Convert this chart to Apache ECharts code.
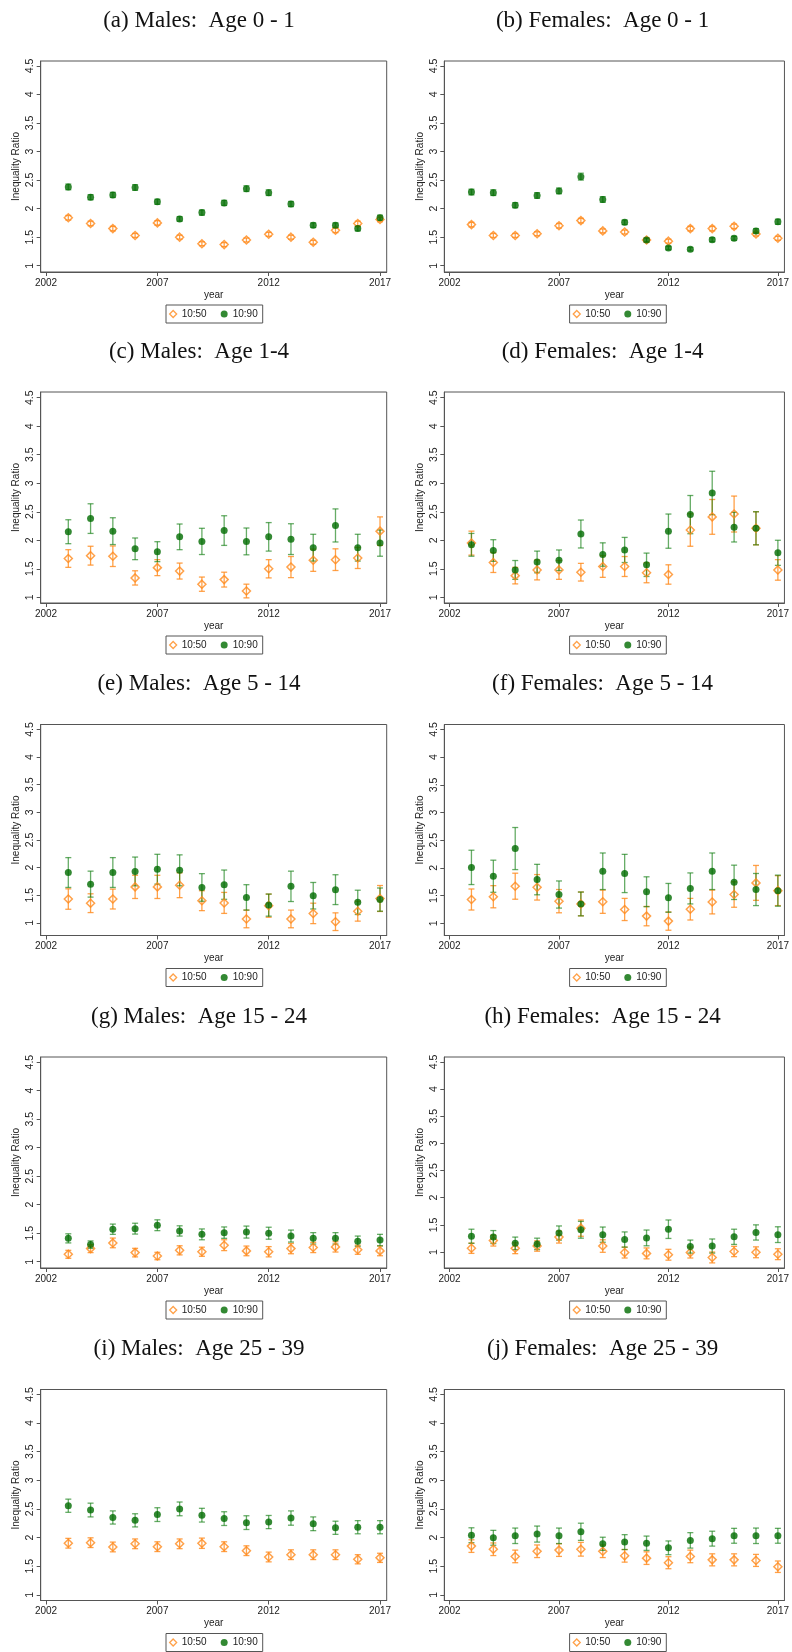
<!DOCTYPE html>
<html>
<head>
<meta charset="utf-8">
<script src="https://cdn.jsdelivr.net/npm/echarts@6/dist/echarts.min.js"></script>
<style>
  html, body { margin: 0; padding: 0; background: #fff; }
  #chart { width: 792px; height: 1652px; }
</style>
</head>
<body>
<div id="chart"></div>
<script>
// x values and tick labels
var years = [2003, 2004, 2005, 2006, 2007, 2008, 2009, 2010, 2011, 2012, 2013, 2014, 2015, 2016, 2017];
var xTicks = [2002, 2007, 2012, 2017];
var yTicks = [1, 1.5, 2, 2.5, 3, 3.5, 4, 4.5];

// (a) males 0-1   (r50 = 10:50 ratio, r90 = 10:90 ratio, *Err = half width of the interval)
var mAge0_r50    = [1.84, 1.74, 1.65, 1.53, 1.75, 1.50, 1.385, 1.37, 1.45, 1.55, 1.50, 1.41, 1.62, 1.74, 1.81];
var mAge0_r50Err = [0.04, 0.04, 0.04, 0.035, 0.04, 0.035, 0.035, 0.035, 0.035, 0.035, 0.035, 0.035, 0.04, 0.04, 0.04];
var mAge0_r90    = [2.38, 2.20, 2.24, 2.37, 2.12, 1.82, 1.93, 2.10, 2.35, 2.28, 2.08, 1.71, 1.71, 1.65, 1.84];
var mAge0_r90Err = [0.05, 0.045, 0.045, 0.05, 0.045, 0.04, 0.045, 0.045, 0.05, 0.05, 0.045, 0.04, 0.04, 0.04, 0.045];

// (b) females 0-1
var fAge0_r50    = [1.72, 1.53, 1.53, 1.56, 1.70, 1.79, 1.61, 1.59, 1.45, 1.43, 1.65, 1.65, 1.69, 1.555, 1.48];
var fAge0_r50Err = [0.04, 0.035, 0.035, 0.035, 0.04, 0.04, 0.035, 0.035, 0.035, 0.035, 0.04, 0.04, 0.04, 0.035, 0.035];
var fAge0_r90    = [2.29, 2.28, 2.06, 2.23, 2.31, 2.56, 2.16, 1.76, 1.45, 1.31, 1.29, 1.455, 1.48, 1.61, 1.77];
var fAge0_r90Err = [0.05, 0.05, 0.045, 0.05, 0.05, 0.06, 0.05, 0.04, 0.035, 0.03, 0.03, 0.035, 0.035, 0.04, 0.045];

// (c) males 1-4
var mAge1_r50    = [1.68, 1.73, 1.72, 1.34, 1.52, 1.46, 1.23, 1.31, 1.11, 1.50, 1.53, 1.65, 1.66, 1.69, 2.16];
var mAge1_r50Err = [0.155, 0.165, 0.18, 0.125, 0.14, 0.14, 0.125, 0.13, 0.12, 0.16, 0.185, 0.195, 0.19, 0.185, 0.25];
var mAge1_r90    = [2.15, 2.38, 2.16, 1.85, 1.80, 2.06, 1.98, 2.17, 1.98, 2.06, 2.02, 1.87, 2.26, 1.87, 1.95];
var mAge1_r90Err = [0.21, 0.26, 0.235, 0.19, 0.175, 0.225, 0.23, 0.26, 0.235, 0.25, 0.27, 0.235, 0.29, 0.235, 0.23];

// (d) females 1-4
var fAge1_r50    = [1.95, 1.61, 1.38, 1.48, 1.48, 1.44, 1.54, 1.54, 1.43, 1.40, 2.18, 2.41, 2.46, 2.21, 1.48];
var fAge1_r50Err = [0.21, 0.175, 0.145, 0.175, 0.165, 0.155, 0.19, 0.175, 0.175, 0.17, 0.285, 0.305, 0.315, 0.29, 0.18];
var fAge1_r90    = [1.92, 1.82, 1.48, 1.62, 1.65, 2.11, 1.75, 1.83, 1.57, 2.16, 2.45, 2.83, 2.23, 2.21, 1.78];
var fAge1_r90Err = [0.2, 0.19, 0.165, 0.19, 0.18, 0.245, 0.205, 0.22, 0.205, 0.30, 0.335, 0.38, 0.26, 0.29, 0.22];

// (e) males 5-14
var mAge5_r50    = [1.43, 1.355, 1.43, 1.65, 1.65, 1.68, 1.40, 1.36, 1.07, 1.31, 1.07, 1.17, 1.02, 1.21, 1.44];
var mAge5_r50Err = [0.185, 0.17, 0.18, 0.21, 0.21, 0.225, 0.18, 0.19, 0.16, 0.21, 0.16, 0.185, 0.16, 0.18, 0.235];
var mAge5_r90    = [1.91, 1.70, 1.91, 1.93, 1.97, 1.95, 1.64, 1.69, 1.46, 1.32, 1.66, 1.49, 1.60, 1.37, 1.42];
var mAge5_r90Err = [0.27, 0.235, 0.27, 0.26, 0.27, 0.28, 0.25, 0.265, 0.23, 0.20, 0.275, 0.24, 0.27, 0.22, 0.21];

// (f) females 5-14
var fAge5_r50    = [1.43, 1.48, 1.67, 1.65, 1.40, 1.35, 1.39, 1.25, 1.13, 1.04, 1.255, 1.385, 1.52, 1.73, 1.59];
var fAge5_r50Err = [0.19, 0.20, 0.235, 0.23, 0.21, 0.215, 0.21, 0.20, 0.175, 0.165, 0.195, 0.215, 0.23, 0.315, 0.27];
var fAge5_r90    = [2.01, 1.85, 2.35, 1.79, 1.52, 1.35, 1.94, 1.90, 1.57, 1.46, 1.63, 1.94, 1.74, 1.61, 1.59];
var fAge5_r90Err = [0.31, 0.29, 0.38, 0.275, 0.245, 0.215, 0.33, 0.345, 0.27, 0.26, 0.28, 0.33, 0.31, 0.29, 0.28];

// (g) males 15-24
var mAge15_r50    = [1.13, 1.23, 1.33, 1.16, 1.10, 1.20, 1.175, 1.29, 1.19, 1.175, 1.23, 1.25, 1.26, 1.21, 1.19];
var mAge15_r50Err = [0.07, 0.07, 0.085, 0.075, 0.065, 0.08, 0.08, 0.095, 0.085, 0.09, 0.09, 0.09, 0.09, 0.08, 0.085];
var mAge15_r90    = [1.41, 1.30, 1.57, 1.58, 1.64, 1.54, 1.48, 1.51, 1.52, 1.50, 1.45, 1.41, 1.41, 1.36, 1.38];
var mAge15_r90Err = [0.08, 0.065, 0.09, 0.095, 0.095, 0.09, 0.095, 0.10, 0.105, 0.105, 0.105, 0.10, 0.10, 0.09, 0.10];

// (h) females 15-24
var fAge15_r50    = [1.07, 1.21, 1.07, 1.11, 1.275, 1.44, 1.11, 0.99, 0.975, 0.95, 0.99, 0.90, 1.01, 0.995, 0.96];
var fAge15_r50Err = [0.095, 0.10, 0.10, 0.095, 0.11, 0.15, 0.115, 0.10, 0.10, 0.10, 0.10, 0.10, 0.095, 0.10, 0.10];
var fAge15_r90    = [1.29, 1.275, 1.16, 1.15, 1.35, 1.41, 1.32, 1.23, 1.26, 1.42, 1.10, 1.11, 1.28, 1.36, 1.32];
var fAge15_r90Err = [0.13, 0.12, 0.115, 0.105, 0.13, 0.155, 0.14, 0.14, 0.145, 0.17, 0.12, 0.13, 0.14, 0.14, 0.145];

// (i) males 25-39
var mAge25_r50    = [1.90, 1.91, 1.835, 1.89, 1.84, 1.89, 1.90, 1.84, 1.77, 1.66, 1.70, 1.70, 1.70, 1.62, 1.645];
var mAge25_r50Err = [0.085, 0.085, 0.085, 0.085, 0.085, 0.085, 0.09, 0.085, 0.085, 0.085, 0.085, 0.085, 0.085, 0.08, 0.08];
var mAge25_r90    = [2.555, 2.48, 2.35, 2.30, 2.40, 2.50, 2.39, 2.33, 2.26, 2.27, 2.34, 2.24, 2.17, 2.18, 2.18];
var mAge25_r90Err = [0.115, 0.12, 0.115, 0.115, 0.12, 0.12, 0.12, 0.12, 0.12, 0.115, 0.125, 0.12, 0.115, 0.115, 0.115];

// (j) females 25-39
var fAge25_r50    = [1.85, 1.795, 1.67, 1.76, 1.78, 1.795, 1.76, 1.68, 1.64, 1.56, 1.67, 1.61, 1.61, 1.60, 1.49];
var fAge25_r50Err = [0.11, 0.11, 0.11, 0.11, 0.11, 0.12, 0.11, 0.11, 0.11, 0.105, 0.11, 0.105, 0.105, 0.105, 0.10];
var fAge25_r90    = [2.04, 1.995, 2.03, 2.06, 2.03, 2.10, 1.89, 1.92, 1.90, 1.82, 1.95, 1.98, 2.03, 2.03, 2.03];
var fAge25_r90Err = [0.13, 0.13, 0.135, 0.14, 0.135, 0.15, 0.115, 0.13, 0.125, 0.12, 0.135, 0.13, 0.13, 0.135, 0.13];

var panels = [
  { title: '(a) Males:  Age 0 - 1',    r50: mAge0_r50,  e50: mAge0_r50Err,  r90: mAge0_r90,  e90: mAge0_r90Err,  yMin: 0.89, yMax: 4.585 },
  { title: '(b) Females:  Age 0 - 1',  r50: fAge0_r50,  e50: fAge0_r50Err,  r90: fAge0_r90,  e90: fAge0_r90Err,  yMin: 0.89, yMax: 4.585 },
  { title: '(c) Males:  Age 1-4',      r50: mAge1_r50,  e50: mAge1_r50Err,  r90: mAge1_r90,  e90: mAge1_r90Err,  yMin: 0.9,  yMax: 4.6 },
  { title: '(d) Females:  Age 1-4',    r50: fAge1_r50,  e50: fAge1_r50Err,  r90: fAge1_r90,  e90: fAge1_r90Err,  yMin: 0.9,  yMax: 4.6 },
  { title: '(e) Males:  Age 5 - 14',   r50: mAge5_r50,  e50: mAge5_r50Err,  r90: mAge5_r90,  e90: mAge5_r90Err,  yMin: 0.77, yMax: 4.59 },
  { title: '(f) Females:  Age 5 - 14', r50: fAge5_r50,  e50: fAge5_r50Err,  r90: fAge5_r90,  e90: fAge5_r90Err,  yMin: 0.78, yMax: 4.59 },
  { title: '(g) Males:  Age 15 - 24',  r50: mAge15_r50, e50: mAge15_r50Err, r90: mAge15_r90, e90: mAge15_r90Err, yMin: 0.89, yMax: 4.59 },
  { title: '(h) Females:  Age 15 - 24',r50: fAge15_r50, e50: fAge15_r50Err, r90: fAge15_r90, e90: fAge15_r90Err, yMin: 0.706, yMax: 4.59 },
  { title: '(i) Males:  Age 25 - 39',  r50: mAge25_r50, e50: mAge25_r50Err, r90: mAge25_r90, e90: mAge25_r90Err, yMin: 0.9,  yMax: 4.585 },
  { title: '(j) Females:  Age 25 - 39',r50: fAge25_r50, e50: fAge25_r50Err, r90: fAge25_r90, e90: fAge25_r90Err, yMin: 0.9,  yMax: 4.585 }
];

var ORANGE = '#ff8a1c';
var ORANGE_BAR = 'rgba(255,138,28,0.8)';
var GREEN = '#006b00';
var GREEN_BAR = 'rgba(20,128,20,0.65)';
var FRAME = '#555';
var TEXT = '#222';

var colLeft = [40.7, 444.3];
var rowTop = [61, 392, 724.5, 1057, 1389.5];
var plotW = 346, plotH = 211;

function errorBar(color) {
  return function (params, api) {
    var x = api.value(0);
    var lo = api.coord([x, api.value(1)]);
    var hi = api.coord([x, api.value(2)]);
    var w = 3;
    var style = { stroke: color, lineWidth: 1.3 };
    return {
      type: 'group',
      children: [
        { type: 'line', shape: { x1: lo[0], y1: lo[1], x2: hi[0], y2: hi[1] }, style: style },
        { type: 'line', shape: { x1: hi[0] - w, y1: hi[1], x2: hi[0] + w, y2: hi[1] }, style: style },
        { type: 'line', shape: { x1: lo[0] - w, y1: lo[1], x2: lo[0] + w, y2: lo[1] }, style: style }
      ]
    };
  };
}

var grids = [], xAxes = [], yAxes = [], series = [], legends = [], texts = [];

panels.forEach(function (p, i) {
  var col = i % 2, row = Math.floor(i / 2);
  var left = colLeft[col], top = rowTop[row];

  grids.push({ left: left, top: top, width: plotW, height: plotH, show: true,
    borderColor: FRAME, borderWidth: 1, backgroundColor: '#fff' });

  xAxes.push({
    gridIndex: i, type: 'value', min: 2001.76, max: 2017.3,
    name: 'year', nameLocation: 'middle', nameGap: 18,
    nameTextStyle: { fontFamily: 'Liberation Sans', fontSize: 10, color: TEXT },
    axisLine: { show: true, lineStyle: { color: FRAME } },
    axisTick: { show: true, length: 4, customValues: xTicks, lineStyle: { color: FRAME } },
    axisLabel: { customValues: xTicks, margin: 6, fontFamily: 'Liberation Sans', fontSize: 10, color: TEXT,
      formatter: function (v) { return String(v); } },
    splitLine: { show: false }
  });

  yAxes.push({
    gridIndex: i, type: 'value', min: p.yMin, max: p.yMax,
    name: 'Inequality Ratio', nameLocation: 'middle', nameGap: 19,
    nameTextStyle: { fontFamily: 'Liberation Sans', fontSize: 10, color: TEXT },
    axisLine: { show: true, lineStyle: { color: FRAME } },
    axisTick: { show: true, length: 4, customValues: yTicks, lineStyle: { color: FRAME } },
    axisLabel: { customValues: yTicks, rotate: 90, margin: 5, fontFamily: 'Liberation Sans', fontSize: 10.5, color: TEXT,
      formatter: function (v) { return String(v); } },
    splitLine: { show: false }
  });

  var ci50 = years.map(function (y, k) { return [y, p.r50[k] - p.e50[k], p.r50[k] + p.e50[k]]; });
  var ci90 = years.map(function (y, k) { return [y, p.r90[k] - p.e90[k], p.r90[k] + p.e90[k]]; });

  series.push({
    name: '10:50 ci', type: 'custom', xAxisIndex: i, yAxisIndex: i, z: 2,
    renderItem: errorBar(ORANGE_BAR), encode: { x: 0, y: [1, 2] }, data: ci50, silent: true
  });
  series.push({
    name: '10:90 ci', type: 'custom', xAxisIndex: i, yAxisIndex: i, z: 2,
    renderItem: errorBar(GREEN_BAR), encode: { x: 0, y: [1, 2] }, data: ci90, silent: true
  });
  series.push({
    name: '10:50', type: 'scatter', xAxisIndex: i, yAxisIndex: i, z: 3,
    symbol: 'diamond', symbolSize: 8,
    itemStyle: { color: 'rgba(255,255,255,0)', borderColor: ORANGE, borderWidth: 1.5 },
    data: years.map(function (y, k) { return [y, p.r50[k]]; })
  });
  series.push({
    name: '10:90', type: 'scatter', xAxisIndex: i, yAxisIndex: i, z: 4,
    symbol: 'circle', symbolSize: 7,
    itemStyle: { color: GREEN },
    data: years.map(function (y, k) { return [y, p.r90[k]]; })
  });

  legends.push({
    left: 166 + col * 403.6, top: top + 244,
    orient: 'horizontal', itemWidth: 7, itemHeight: 7, itemGap: 14, padding: [4, 5, 4, 3],
    borderColor: FRAME, borderWidth: 1, backgroundColor: '#fff',
    textStyle: { fontFamily: 'Liberation Sans', fontSize: 10, color: TEXT },
    selectedMode: false,
    data: [
      { name: '10:50', icon: 'diamond', itemStyle: { color: 'rgba(255,255,255,0)', borderColor: ORANGE, borderWidth: 1.3 } },
      { name: '10:90', icon: 'circle', itemStyle: { color: GREEN } }
    ]
  });

  texts.push({
    type: 'text', x: 199 + col * 403.6, y: top - 40.5,
    style: { text: p.title, fontFamily: 'Liberation Serif', fontSize: 23, fill: '#111',
      textAlign: 'center', textVerticalAlign: 'middle' }
  });
});

var chart = echarts.init(document.getElementById('chart'), null, { renderer: 'canvas' });
chart.setOption({
  animation: false,
  backgroundColor: '#fff',
  grid: grids,
  xAxis: xAxes,
  yAxis: yAxes,
  legend: legends,
  graphic: texts,
  series: series
});
</script>
</body>
</html>
